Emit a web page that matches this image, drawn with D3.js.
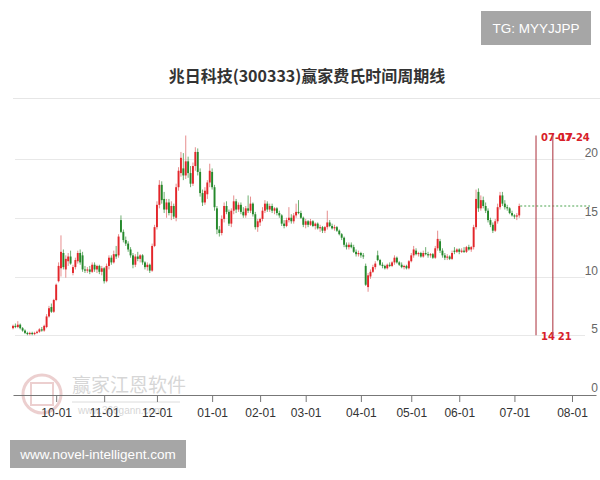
<!DOCTYPE html>
<html>
<head>
<meta charset="utf-8">
<script src="https://cdn.jsdelivr.net/npm/d3@7"></script>
<style>
  body { margin: 0; background: #fff; }
  svg { display: block; }
</style>
</head>
<body>
<svg width="600" height="480"></svg>
<script>
const title = '兆日科技(300333)赢家费氏时间周期线'
const tgLabel = 'TG: MYYJJPP'
const siteLabel = 'www.novel-intelligent.com'

// x positions are trading-day slots
const monthTicks = [18, 38, 60, 83, 103, 122, 145, 166, 186, 209, 233]
const monthLabels = ['10-01', '11-01', '12-01', '01-01', '02-01', '03-01', '04-01', '05-01', '06-01', '07-01', '08-01']
const priceTicks = [0, 5, 10, 15, 20]

const cycleSlots = [218, 225]
const cycleDates = ['07-17', '07-24']
const cycleCounts = ['14', '21']
const cycleRange = [5, 22]

// [open, high, low, close]
const candles = [
  [5.6,5.9,5.5,5.8],[5.8,6.0,5.6,5.7],[5.7,6.2,5.6,5.9],[5.9,6.0,5.5,5.6],[5.6,5.7,5.3,5.4],
  [5.4,5.5,5.1,5.2],[5.2,5.3,5.0,5.1],[5.1,5.3,5.0,5.2],[5.2,5.3,5.0,5.1],[5.1,5.3,5.0,5.2],
  [5.2,5.4,5.1,5.3],[5.3,5.6,5.2,5.5],[5.5,5.7,5.3,5.4],[5.4,5.9,5.3,5.8],[5.7,6.8,5.6,6.6],
  [6.6,7.5,6.5,7.3],[7.4,7.7,6.9,7.0],[7.0,8.1,6.9,8.0],[8.0,9.4,7.9,9.3],[9.6,11.2,9.5,10.9],
  [10.7,13.5,10.0,12.1],[12.0,12.3,10.6,10.8],[10.6,11.8,9.9,11.5],[11.3,12.0,10.9,11.7],[11.7,12.2,11.0,11.1],
  [10.3,11.0,10.1,10.8],[10.8,11.6,10.6,11.4],[11.3,12.2,11.1,12.0],[12.0,12.3,11.0,11.2],[11.8,12.1,10.4,10.6],
  [10.6,10.9,10.3,10.5],[10.5,10.8,10.3,10.6],[10.6,10.9,10.2,10.4],[10.4,11.2,10.3,11.0],[11.0,11.2,10.4,10.6],
  [10.6,11.0,10.3,10.9],[10.9,11.0,10.2,10.4],[10.4,10.9,10.1,10.7],[10.7,10.8,9.4,9.6],[9.6,11.1,9.5,10.9],
  [10.9,11.8,10.6,11.6],[11.6,11.8,11.0,11.2],[11.2,12.2,11.1,11.9],[11.9,12.6,11.5,11.7],[11.8,13.6,11.6,13.4],
  [14.8,15.2,13.7,13.8],[13.8,14.0,12.9,13.1],[13.1,13.4,12.6,12.8],[12.8,13.0,12.1,12.3],[12.3,12.5,11.6,11.8],
  [11.8,12.0,10.7,11.0],[11.0,11.9,10.8,11.7],[11.7,12.1,11.3,11.5],[11.5,11.9,11.2,11.8],[11.8,11.9,11.0,11.2],
  [11.2,11.3,10.6,10.8],[10.8,11.2,10.5,11.0],[11.0,11.1,10.3,10.5],[10.5,12.8,10.4,12.6],[12.6,14.4,12.5,14.2],
  [14.2,16.4,14.0,16.1],[16.1,18.2,15.8,17.8],[17.8,18.1,16.2,16.5],[16.6,17.2,15.4,15.7],[15.7,16.6,15.0,16.3],
  [16.3,16.6,15.2,15.4],[15.4,16.4,14.8,16.0],[16.0,16.2,14.9,15.1],[15.0,17.9,14.7,17.6],[17.6,19.3,17.3,19.0],
  [18.8,20.6,18.5,20.1],[19.2,20.5,18.2,18.6],[18.6,22.0,18.3,19.8],[19.8,20.2,18.4,18.8],[18.8,19.4,17.6,17.9],
  [17.9,19.7,17.7,19.4],[19.4,21.0,19.0,20.6],[20.6,20.9,18.6,18.9],[18.9,19.2,16.8,17.1],[17.1,17.4,16.0,16.3],
  [16.3,17.6,16.1,17.3],[17.0,18.2,16.6,18.0],[18.0,19.6,17.6,19.0],[18.9,19.2,17.4,17.6],[17.6,17.8,15.6,15.9],
  [15.8,16.0,13.6,14.0],[14.0,14.3,13.4,13.7],[13.7,15.2,13.5,14.9],[14.9,16.3,14.6,16.0],[16.0,16.4,15.3,15.5],
  [15.5,15.7,14.3,14.5],[14.5,15.8,14.2,15.6],[15.6,16.9,15.3,16.4],[16.4,16.6,15.4,15.7],[15.7,16.3,15.5,16.1],
  [16.1,16.3,15.3,15.5],[15.5,15.9,15.0,15.2],[15.2,16.0,15.0,15.8],[15.8,16.9,15.4,15.6],[15.6,16.8,15.4,16.2],
  [16.2,16.3,15.1,15.3],[15.3,15.5,14.0,14.2],[14.2,14.9,13.8,14.7],[14.6,15.0,14.3,14.9],[14.9,15.9,14.7,15.6],
  [15.6,16.5,15.4,16.2],[16.2,16.4,15.5,15.7],[15.7,16.2,15.5,16.0],[16.0,16.2,15.4,15.6],[15.6,15.9,15.3,15.8],
  [15.8,15.9,15.2,15.4],[15.4,15.6,15.0,15.2],[15.2,15.3,14.3,14.5],[14.5,14.8,14.1,14.3],[14.3,15.0,14.2,14.8],
  [14.8,15.9,14.6,15.0],[15.0,15.3,14.5,14.7],[14.7,15.4,14.5,15.2],[15.2,16.2,15.0,15.5],[15.5,16.5,15.3,15.4],
  [15.4,15.6,14.9,15.0],[15.0,15.1,14.2,14.4],[14.4,14.9,14.1,14.7],[14.7,14.8,14.2,14.4],[14.4,14.9,14.3,14.7],
  [14.7,14.8,14.2,14.3],[14.3,14.6,14.0,14.5],[14.5,14.6,14.0,14.1],[14.1,14.4,13.8,14.2],[14.2,14.3,13.7,13.9],
  [13.9,14.3,13.7,14.2],[14.2,15.6,14.0,14.6],[14.6,14.8,14.2,14.3],[14.3,14.5,14.0,14.1],[14.1,14.4,13.9,14.2],
  [14.2,14.3,13.8,13.9],[13.9,14.0,13.5,13.6],[13.6,13.7,13.1,13.3],[13.3,13.4,12.5,12.7],[12.7,12.9,12.3,12.5],
  [12.5,12.9,12.3,12.7],[12.7,12.9,12.4,12.5],[12.5,12.7,12.0,12.1],[12.1,12.3,11.7,11.9],[11.9,12.2,11.7,12.0],
  [12.0,12.1,11.6,11.8],[11.8,12.0,11.5,11.7],[10.9,11.1,9.2,9.3],[9.1,10.3,8.7,10.1],[10.0,10.6,9.8,10.4],
  [10.4,11.0,10.3,10.8],[10.8,11.3,10.6,11.1],[11.8,12.2,11.3,11.4],[11.4,11.5,10.9,11.0],[11.0,11.2,10.7,10.9],
  [10.9,11.0,10.6,10.7],[10.7,11.1,10.6,11.0],[11.0,11.2,10.8,10.9],[10.9,11.3,10.8,11.2],[11.2,11.8,11.0,11.6],
  [11.6,11.7,11.1,11.2],[11.2,11.3,10.9,11.0],[11.0,11.2,10.7,10.8],[10.8,11.0,10.6,10.9],[10.9,11.0,10.6,10.7],
  [10.7,11.4,10.6,11.3],[11.3,12.0,11.2,11.8],[11.8,12.6,11.6,12.3],[12.2,12.4,11.8,11.9],[11.9,12.1,11.7,12.0],
  [12.0,12.1,11.6,11.7],[11.7,12.2,11.6,12.0],[12.0,12.5,11.8,11.9],[11.9,12.1,11.6,11.8],[11.8,12.0,11.6,11.9],
  [11.9,12.0,11.5,11.6],[11.6,12.6,11.5,12.4],[12.4,13.9,12.2,13.2],[13.0,13.2,12.0,12.2],[12.2,12.4,11.6,11.8],
  [11.8,12.0,11.4,11.6],[11.6,11.9,11.4,11.7],[11.7,11.8,11.4,11.5],[11.5,12.2,11.4,12.0],[12.2,12.5,11.9,12.1],
  [12.1,12.4,12.0,12.3],[12.3,12.4,11.9,12.1],[12.1,12.4,12.0,12.2],[12.2,12.5,12.0,12.1],[12.1,12.6,12.0,12.5],
  [12.5,12.7,12.2,12.3],[12.3,12.6,12.1,12.5],[12.5,14.4,12.3,14.2],[14.2,17.4,14.0,16.6],[17.2,17.5,15.5,15.8],
  [15.8,16.9,15.6,16.5],[16.5,16.8,15.8,16.0],[16.0,16.3,15.4,15.6],[15.6,15.8,14.6,14.8],[14.8,15.0,14.2,14.4],
  [14.4,14.6,13.7,13.9],[13.9,14.9,13.8,14.7],[14.7,16.2,14.5,15.9],[15.9,17.2,15.7,16.9],[16.9,17.2,16.0,16.2],
  [16.2,16.5,15.7,15.9],[15.9,16.1,15.6,15.8],[15.8,15.9,15.3,15.4],[15.4,15.6,15.1,15.2],[15.2,15.3,14.9,15.1],
  [15.1,15.4,14.8,15.2],[15.2,16.2,15.0,16.0]
]

const svg = d3.select('svg')
const width = +svg.attr('width')

const up = '#e3262b'
const down = '#25892c'

const x = d3.scaleLinear().domain([0, 243]).range([13, 596])
const y = d3.scaleLinear().domain([0, 20]).range([394, 159])
const slot = x(1) - x(0)

// top label box
svg.append('rect').attr('x', 481).attr('y', 11).attr('width', 110).attr('height', 34).attr('fill', '#a6a6a6')
svg.append('text').attr('x', 536).attr('y', 33).attr('text-anchor', 'middle')
   .attr('font-family', 'Liberation Sans, Arial, sans-serif').attr('font-size', 13.5).attr('fill', '#fff')
   .text(tgLabel)

svg.append('text').attr('x', 307).attr('y', 82).attr('text-anchor', 'middle')
   .attr('font-family', 'Noto Sans CJK SC, sans-serif').attr('font-size', 16).attr('font-weight', 'bold')
   .attr('fill', '#333').text(title)

svg.append('line').attr('x1', 13).attr('x2', width).attr('y1', 98.5).attr('y2', 98.5)
   .attr('stroke', '#e6e6e6')

// grid + right labels
svg.append('g').selectAll('line')
   .data(priceTicks.filter(d => d > 0))
   .enter().append('line')
   .attr('x1', 15).attr('x2', 585)
   .attr('y1', d => Math.round(y(d)) + 0.5).attr('y2', d => Math.round(y(d)) + 0.5)
   .attr('stroke', '#e8e8e8')

svg.append('g').selectAll('text')
   .data(priceTicks)
   .enter().append('text')
   .attr('x', 598).attr('y', d => y(d) - 2)
   .attr('text-anchor', 'end')
   .attr('font-family', 'Liberation Sans, Arial, sans-serif').attr('font-size', 12)
   .attr('fill', '#666')
   .text(d => d)

// watermark
const wm = svg.append('g').attr('opacity', 0.4)
wm.append('circle').attr('cx', 42).attr('cy', 394).attr('r', 19)
  .attr('fill', 'none').attr('stroke', '#d08a8a').attr('stroke-width', 3)
wm.append('rect').attr('x', 31).attr('y', 383).attr('width', 22).attr('height', 22)
  .attr('fill', 'none').attr('stroke', '#d08a8a').attr('stroke-width', 2)
wm.append('text').attr('x', 72).attr('y', 392)
  .attr('font-family', 'Noto Sans CJK SC, sans-serif').attr('font-size', 19).attr('fill', '#9a9a9a')
  .text('赢家江恩软件')
wm.append('line').attr('x1', 72).attr('x2', 180).attr('y1', 402).attr('y2', 402).attr('stroke', '#aaa')
wm.append('text').attr('x', 78).attr('y', 414)
  .attr('font-family', 'Liberation Sans, Arial, sans-serif').attr('font-size', 10).attr('fill', '#999')
  .text('www.360gann.com')

// bottom axis
const xAxis = d3.axisBottom(x)
  .tickValues(monthTicks)
  .tickFormat((d, i) => monthLabels[i])
  .tickSize(7)
  .tickSizeOuter(0)
  .tickPadding(6)

const ax = svg.append('g').attr('transform', 'translate(0,395)').call(xAxis)
ax.select('.domain').attr('stroke', '#777')
ax.selectAll('.tick line').attr('stroke', '#777')
ax.selectAll('.tick text').attr('fill', '#333').attr('font-size', 12)
  .attr('font-family', 'Liberation Sans, Arial, sans-serif')

// candles
const cell = svg.append('g').selectAll('g')
  .data(candles)
  .enter().append('g')

cell.append('line')
  .attr('x1', (d, i) => x(i)).attr('x2', (d, i) => x(i))
  .attr('y1', d => y(d[1])).attr('y2', d => y(d[2]))
  .attr('stroke', d => d[3] >= d[0] ? '#e07070' : '#4a9a4e')
  .attr('stroke-width', 0.8)

cell.append('rect')
  .attr('x', (d, i) => x(i) - slot * 0.4)
  .attr('width', slot * 0.8)
  .attr('y', d => y(Math.max(d[0], d[3])))
  .attr('height', d => Math.max(1, Math.abs(y(d[0]) - y(d[3]))))
  .attr('fill', d => d[3] >= d[0] ? up : down)

// last close dashed line
const last = candles[candles.length - 1]
svg.append('line')
   .attr('x1', x(candles.length - 1) + 1).attr('x2', 590)
   .attr('y1', y(last[3])).attr('y2', y(last[3]))
   .attr('stroke', '#4aa34e').attr('stroke-dasharray', '2,2')

// time cycle lines
const cyc = svg.append('g').selectAll('g')
  .data(cycleSlots)
  .enter().append('g')

cyc.append('line')
  .attr('x1', d => x(d)).attr('x2', d => x(d))
  .attr('y1', y(cycleRange[1])).attr('y2', y(cycleRange[0]))
  .attr('stroke', '#b8505a').attr('stroke-width', 1.2)

cyc.append('text')
  .attr('x', d => x(d) + 5).attr('y', y(cycleRange[1]) + 5)
  .attr('font-family', 'DejaVu Sans, sans-serif').attr('font-size', 10).attr('font-weight', 'bold')
  .attr('fill', '#d8202a')
  .text((d, i) => cycleDates[i])

cyc.append('text')
  .attr('x', d => x(d) + 5).attr('y', y(cycleRange[0]) + 5)
  .attr('font-family', 'DejaVu Sans, sans-serif').attr('font-size', 10).attr('font-weight', 'bold')
  .attr('fill', '#d8202a')
  .text((d, i) => cycleCounts[i])

// bottom-left site box
svg.append('rect').attr('x', 10).attr('y', 440).attr('width', 176).attr('height', 28).attr('fill', '#a6a6a6')
svg.append('text').attr('x', 98).attr('y', 459).attr('text-anchor', 'middle')
   .attr('font-family', 'Liberation Sans, Arial, sans-serif').attr('font-size', 13.5).attr('fill', '#fff')
   .text(siteLabel)
</script>
</body>
</html>
